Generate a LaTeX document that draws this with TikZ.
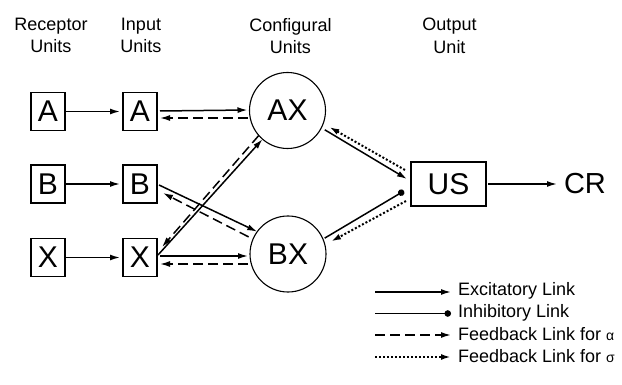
\documentclass[tikz,border=0pt]{standalone}
\usepackage{fontspec}
\setmainfont{Liberation Sans}
\usetikzlibrary{arrows.meta,calc}
\begin{document}
\begin{tikzpicture}[x=1pt,y=-1pt,
  every node/.style={inner sep=0pt,outer sep=0pt},
  unitbox/.style={draw,line width=1.1pt,minimum width=34pt,minimum height=38pt,font=\fontsize{30}{34}\selectfont},
  unitcirc/.style={draw,circle,line width=1.1pt,minimum size=76pt,font=\fontsize{30}{34}\selectfont},
  hdr/.style={align=center,anchor=north,font=\fontsize{18}{22.5}\selectfont},
  leg/.style={anchor=west,font=\fontsize{18}{20}\selectfont},
  tip/.style={-{Latex[length=10pt,width=6pt]}},
  exc/.style={tip,line width=1.5pt},
  inh/.style={-{Circle[length=6.5pt]},line width=1.5pt},
  fba/.style={tip,line width=1.5pt,dash pattern=on 10pt off 5pt},
  fbs/.style={tip,line width=2pt,dash pattern=on 2pt off 2pt}
]
\useasboundingbox (0,0) rectangle (622,385);
% headers
\node[hdr] (h1) at (51,18) {Receptor\\Units};
\node[hdr] (h2) at (141,18) {Input\\Units};
\node[hdr] (h3) at (290.5,18) {Configural\\Units};
\node[hdr] (h4) at (449.5,18) {Output\\Unit};
% receptor units
\node[unitbox] (rA) at (48,111.5) {A};
\node[unitbox] (rB) at (48,184) {B};
\node[unitbox] (rX) at (48,257.5) {X};
% input units
\node[unitbox] (iA) at (140,111.5) {A};
\node[unitbox] (iB) at (140,184) {B};
\node[unitbox] (iX) at (140,257.5) {X};
% configural units
\node[unitcirc] (AX) at (287.5,110.5) {AX};
\node[unitcirc] (BX) at (288,254) {BX};
% output
\node[draw,line width=1.1pt,minimum width=75pt,minimum height=44pt,font=\fontsize{30}{34}\selectfont] (US) at (448.5,184) {US};
\node[font=\fontsize{29}{34}\selectfont,anchor=west] (CR) at (564,184) {CR};
% receptor -> input
\draw[exc,shorten <=1pt,shorten >=3pt] (rA) -- (iA);
\draw[exc,shorten <=1pt,shorten >=3pt] (rB) -- (iB);
\draw[exc,shorten <=1pt,shorten >=3pt] (rX) -- (iX);
% input <-> configural
\draw[exc] ($(iA.east)+(3,-0.5)$) -- ($(AX.west)+(-2,-0.5)$);
\draw[fba] ($(AX.west)+(-2,7.5)$) -- ($(iA.east)+(3,6.5)$);
\draw[exc] ($(iX.east)+(3,-1.5)$) -- ($(BX.west)+(-2,2)$);
\draw[fba] ($(BX.west)+(-2,10)$) -- ($(iX.east)+(3,6.5)$);
\draw[exc] ($(iB.east)+(2,1)$) -- (BX.144);
\draw[fba,shorten <=5pt] (BX.157) -- ($(iB.east)+(6,9)$);
\draw[exc] ($(iX.east)+(1,-2.5)$) -- (AX.229);
\draw[fba] (AX.221) -- ($(iX.east)+(5,-10.5)$);
% configural <-> output
\draw[exc,shorten <=4pt] (AX.333) -- ($(US.west)+(-4,-5)$);
\draw[fbs,shorten >=7pt] ($(US.west)+(-6,-14)$) -- (AX.340);
\draw[inh,shorten <=2pt] (BX.23) -- ($(US.west)+(-7,7)$);
\draw[fbs,shorten >=7pt] ($(US.west)+(-5,17)$) -- (BX.14);
% output -> CR
\draw[exc,shorten <=2pt,shorten >=7pt] (US.east) -- (CR.west);
% legend
\coordinate (l1a) at (375,292); \coordinate (l1b) at (451,292);
\coordinate (l2a) at (375,313.5); \coordinate (l2b) at (451,313.5);
\coordinate (l3a) at (375,335); \coordinate (l3b) at (451,335);
\coordinate (l4a) at (375,357); \coordinate (l4b) at (451,357);
\draw[exc] (l1a) -- (l1b);
\draw[inh] (l2a) -- (l2b);
\draw[fba] (l3a) -- (l3b);
\draw[fbs] (l4a) -- (l4b);
\node[leg] (t1) at (458,291) {Excitatory Link};
\node[leg] (t2) at (458,312.5) {Inhibitory Link};
\node[leg] (t3) at (458,334) {Feedback Link for {\fontsize{14}{16}\selectfont α}};
\node[leg] (t4) at (458,356) {Feedback Link for {\fontsize{14}{16}\selectfont σ}};
\end{tikzpicture}
\end{document}
